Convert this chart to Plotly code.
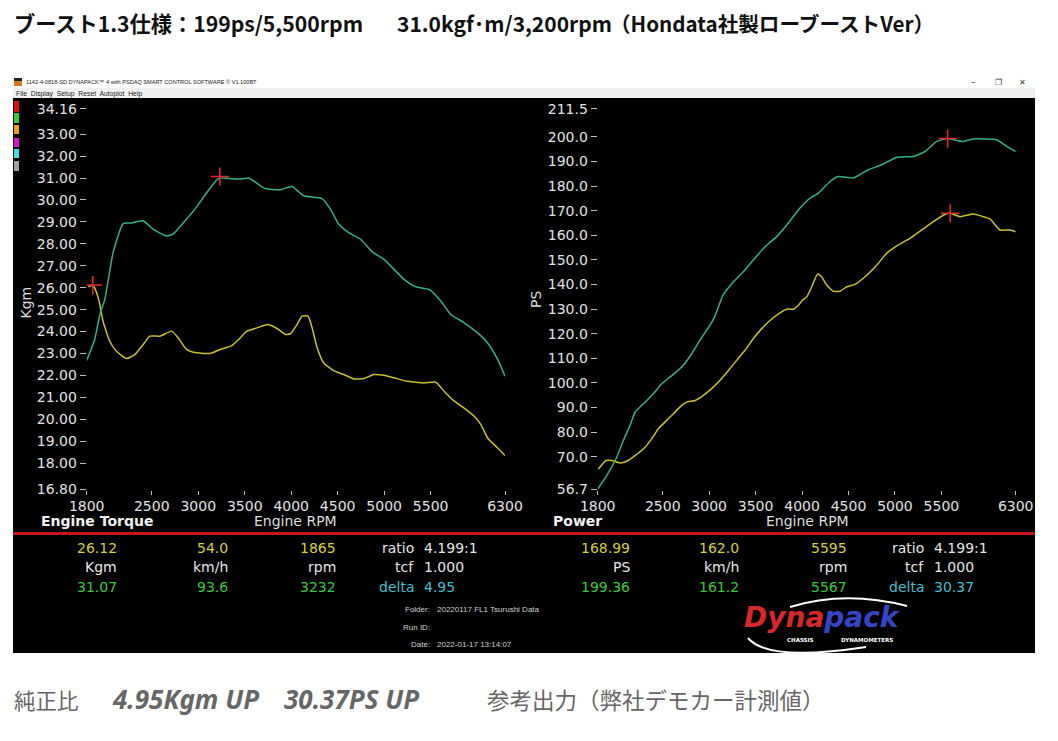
import plotly.graph_objects as go

W, H = 1058, 741

# ---------------- data ----------------
rpm_ticks = [1800, 2500, 3000, 3500, 4000, 4500, 5000, 5500, 6300]
rpm_grid = [2000, 2500, 3000, 3500, 4000, 4500, 5000, 5500, 6000, 6300]

kgm_ticks = [16.8] + list(range(18, 34)) + [34.16]
kgm_ticktext = ['16.80'] + ['%.2f' % v for v in range(18, 34)] + ['34.16']
kgm_grid = list(range(17, 34))

ps_ticks = [56.7] + list(range(70, 201, 10)) + [211.5]
ps_ticktext = ['56.7'] + ['%.1f' % v for v in range(70, 201, 10)] + ['211.5']
ps_grid = list(range(60, 201, 10))

# Torque (Kgm) - tuned (green)
tq_tuned_rpm = [1800, 1886, 1946, 1994, 2084, 2192, 2280, 2408, 2516, 2660, 2731, 2857, 2965,
                3091, 3217, 3330, 3451, 3541, 3721, 3883, 4009, 4134, 4332, 4422, 4512, 4620,
                4746, 4872, 4998, 5214, 5340, 5483, 5609, 5717, 5861, 6005, 6113, 6221, 6300]
tq_tuned = [22.68, 23.64, 24.85, 25.45, 27.6, 28.92, 28.95, 29.05, 28.66, 28.36, 28.45, 29.04, 29.58,
            30.33, 30.98, 30.98, 30.95, 31.0, 30.52, 30.46, 30.61, 30.19, 30.06, 29.58, 28.89, 28.51,
            28.21, 27.63, 27.29, 26.38, 26.04, 25.92, 25.39, 24.78, 24.40, 23.94, 23.48, 22.73, 21.96]

# Torque (Kgm) - baseline (yellow)
tq_base_rpm = [1817, 1865, 1900, 1933, 1976, 2048, 2120, 2228, 2318, 2408, 2480, 2588, 2714, 2785,
               2876, 2984, 3127, 3235, 3361, 3451, 3523, 3631, 3746, 3847, 3937, 3991, 4063, 4117,
               4181, 4225, 4279, 4350, 4458, 4566, 4674, 4782, 4890, 4998, 5106, 5250, 5430, 5555,
               5645, 5735, 5861, 5969, 6041, 6113, 6221, 6300]
tq_base = [26.04, 26.12, 25.85, 25.39, 24.47, 23.56, 23.10, 22.77, 22.95, 23.41, 23.79, 23.79, 24.02, 23.71,
           23.18, 23.03, 23.00, 23.18, 23.36, 23.71, 24.02, 24.17, 24.32, 24.14, 23.87, 23.90, 24.32, 24.70,
           24.70, 24.17, 23.26, 22.57, 22.22, 22.04, 21.84, 21.86, 22.04, 22.01, 21.89, 21.73, 21.66, 21.69,
           21.28, 20.90, 20.51, 20.14, 19.76, 19.15, 18.69, 18.35]

# Power (PS) - tuned (green)
ps_tuned_rpm = [1800, 1897, 2005, 2076, 2148, 2202, 2310, 2399, 2489, 2615, 2722, 2812, 2902, 3009,
                3060, 3153, 3261, 3368, 3476, 3601, 3727, 3835, 3978, 4086, 4176, 4301, 4391, 4552,
                4713, 4857, 5019, 5198, 5324, 5450, 5567, 5629, 5737, 5844, 5988, 6095, 6203, 6300]
ps_tuned = [56.9, 62.3, 69.8, 76.6, 82.7, 88.1, 92.2, 95.6, 99.7, 103.5, 107.2, 111.9, 117.4, 123.5,
            127.0, 136.0, 141.1, 145.2, 150.0, 155.4, 159.5, 164.2, 171.1, 175.1, 177.2, 181.9, 183.9, 183.3,
            186.7, 188.7, 191.8, 192.1, 194.1, 198.2, 199.4, 198.9, 198.2, 199.2, 199.2, 198.9, 196.2, 194.1]

# Power (PS) - baseline (yellow)
ps_base_rpm = [1807, 1890, 1951, 2040, 2112, 2202, 2310, 2381, 2453, 2543, 2615, 2704, 2758, 2848,
               2938, 3027, 3117, 3207, 3296, 3386, 3476, 3566, 3637, 3727, 3835, 3906, 3960, 4007,
               4050, 4104, 4168, 4211, 4265, 4337, 4409, 4481, 4570, 4678, 4803, 4911, 5037, 5162,
               5288, 5414, 5539, 5595, 5701, 5844, 5952, 6023, 6131, 6239, 6300]
ps_base = [65.0, 68.5, 68.5, 67.5, 68.2, 70.5, 73.9, 77.3, 81.4, 84.8, 87.5, 90.9, 92.2, 92.9,
           95.0, 97.7, 101.1, 105.1, 109.2, 113.3, 118.1, 122.1, 124.8, 127.6, 130.0, 130.0, 131.6, 133.7,
           135.0, 139.1, 144.3, 143.2, 139.8, 137.3, 137.3, 139.1, 140.1, 143.2, 147.9, 152.7, 156.1, 158.8,
           162.2, 165.6, 168.6, 169.0, 167.6, 168.7, 167.6, 166.7, 162.2, 162.2, 161.5]

# Peak markers
tq_peak_rpm = [1865, 3232]
tq_peak = [26.12, 31.07]
ps_peak_rpm = [5595, 5567]
ps_peak = [168.99, 199.36]

# Readouts
tq_row1 = ['26.12', '54.0', '1865']
tq_row2 = ['Kgm', 'km/h', 'rpm']
tq_row3 = ['31.07', '93.6', '3232']
ps_row1 = ['168.99', '162.0', '5595']
ps_row2 = ['PS', 'km/h', 'rpm']
ps_row3 = ['199.36', '161.2', '5567']
ratio_txt = '4.199:1'
tcf_txt = '1.000'
tq_delta = '4.95'
ps_delta = '30.37'

# ---------------- helpers ----------------
OFF = 8  # page body margin offset of the figure


def px(x):
    return (x - OFF) / W


def py(y):
    return 1 - (y - OFF) / H


GREEN = '#34b08c'
YELLOW = '#c8c02a'
GRID = '#565656'
UI = 'DejaVu Sans, Arial, sans-serif'
JP = 'Noto Sans CJK JP, sans-serif'

xL = [px(86.7), px(505.0)]
xR = [px(597.7), px(1015.7)]
yD = [py(489.5), py(108.7)]

fig = go.Figure()

line_style = dict(width=1.5, shape='spline', smoothing=0.5)
fig.add_trace(go.Scatter(x=tq_base_rpm, y=tq_base, xaxis='x', yaxis='y', mode='lines',
                         line=dict(color=YELLOW, **line_style), showlegend=False, hoverinfo='skip'))
fig.add_trace(go.Scatter(x=tq_tuned_rpm, y=tq_tuned, xaxis='x', yaxis='y', mode='lines',
                         line=dict(color=GREEN, **line_style), showlegend=False, hoverinfo='skip'))
fig.add_trace(go.Scatter(x=ps_base_rpm, y=ps_base, xaxis='x2', yaxis='y2', mode='lines',
                         line=dict(color=YELLOW, **line_style), showlegend=False, hoverinfo='skip'))
fig.add_trace(go.Scatter(x=ps_tuned_rpm, y=ps_tuned, xaxis='x2', yaxis='y2', mode='lines',
                         line=dict(color=GREEN, **line_style), showlegend=False, hoverinfo='skip'))
cross = dict(symbol='cross-thin', size=13, color='#e02828', line=dict(color='#e02828', width=1.6))
fig.add_trace(go.Scatter(x=tq_peak_rpm, y=tq_peak, xaxis='x', yaxis='y', mode='markers',
                         marker=cross, showlegend=False, hoverinfo='skip'))
fig.add_trace(go.Scatter(x=ps_peak_rpm, y=ps_peak, xaxis='x2', yaxis='y2', mode='markers',
                         marker=cross, showlegend=False, hoverinfo='skip'))

tickfont = dict(family=UI, size=14, color='#e2e2e2')


def label_x(domain, anchor, vals):
    return dict(domain=domain, anchor=anchor, range=[1800, 6300], tickmode='array', tickvals=vals,
                ticktext=[str(v) for v in vals], showgrid=False, zeroline=False, showline=False,
                ticks='outside', ticklen=4, tickcolor='#bdbdbd', tickfont=tickfont, fixedrange=True,
                automargin=False)


def grid_x(over, anchor, vals):
    return dict(overlaying=over, anchor=anchor, range=[1800, 6300], tickmode='array', tickvals=vals,
                showgrid=True, gridcolor=GRID, gridwidth=1, showticklabels=False, ticks='',
                zeroline=False, showline=False, fixedrange=True, automargin=False)


def label_y(domain, anchor, rng, vals, text):
    return dict(domain=domain, anchor=anchor, range=rng, tickmode='array', tickvals=vals, ticktext=text,
                showgrid=False, zeroline=False, showline=False, ticks='outside', ticklen=6,
                tickcolor='#bdbdbd', tickfont=tickfont, fixedrange=True, automargin=False)


def grid_y(over, anchor, rng, vals):
    return dict(overlaying=over, anchor=anchor, range=rng, tickmode='array', tickvals=vals,
                showgrid=True, gridcolor=GRID, gridwidth=1, showticklabels=False, ticks='',
                zeroline=False, showline=False, fixedrange=True, automargin=False)


fig.update_layout(
    width=W, height=H, margin=dict(l=0, r=0, t=0, b=0, autoexpand=False),
    paper_bgcolor='white', plot_bgcolor='black', showlegend=False,
    xaxis=label_x(xL, 'y', rpm_ticks),
    xaxis2=label_x(xR, 'y2', rpm_ticks),
    xaxis3=grid_x('x', 'y', rpm_grid),
    xaxis4=grid_x('x2', 'y2', rpm_grid),
    yaxis=label_y(yD, 'x', [16.8, 34.16], kgm_ticks, kgm_ticktext),
    yaxis2=label_y(yD, 'x2', [56.7, 211.5], ps_ticks, ps_ticktext),
    yaxis3=grid_y('y', 'x', [16.8, 34.16], kgm_grid),
    yaxis4=grid_y('y2', 'x2', [56.7, 211.5], ps_grid),
)

shapes = []


def rect(x0, y0, x1, y1, color, layer='below'):
    shapes.append(dict(type='rect', xref='paper', yref='paper', x0=px(x0), x1=px(x1), y0=py(y1), y1=py(y0),
                       fillcolor=color, line=dict(width=0), layer=layer))


rect(13, 98, 1035, 653, 'black')
rect(13, 88, 1035, 98, '#f0f0f0')
rect(14, 78, 22, 86, '#d87a1c')
rect(14, 78, 22, 81, '#202020')
# red separator
shapes.append(dict(type='line', xref='paper', yref='paper', x0=px(13), x1=px(1035), y0=py(533.5), y1=py(533.5),
                   line=dict(color='#c8141c', width=3), layer='above'))
# legend colour chips
for (y0, y1, c) in [(101, 112, '#e01010'), (113, 123, '#30d030'), (125, 134, '#f0a010'),
                    (138, 147, '#e010d0'), (149, 158, '#40e0e8'), (161, 171, '#a0a0a0')]:
    rect(14, y0, 19, y1, c, layer='above')


def path_pts(pts):
    s = 'M %f,%f' % (px(pts[0][0]), py(pts[0][1]))
    s += ' Q %f,%f %f,%f' % (px(pts[1][0]), py(pts[1][1]), px(pts[2][0]), py(pts[2][1]))
    return s


shapes.append(dict(type='path', xref='paper', yref='paper', path=path_pts([(748, 638), (768, 662), (866, 647)]),
                   line=dict(color='white', width=2), layer='above'))
shapes.append(dict(type='path', xref='paper', yref='paper', path=path_pts([(790, 607), (845, 590), (907, 606)]),
                   line=dict(color='white', width=2), layer='above'))
fig.update_layout(shapes=shapes)

anns = []


def ann(x, y, text, size, color, xanchor='left', family=UI, angle=0, yanchor='middle'):
    anns.append(dict(x=px(x), y=py(y), xref='paper', yref='paper', text=text, showarrow=False,
                     xanchor=xanchor, yanchor=yanchor, textangle=angle, borderpad=0,
                     font=dict(family=family, size=size, color=color)))


# title
ann(13, 22.5, '<b>ブースト1.3仕様：199ps/5,500rpm</b>', 21.2, '#111111', family=JP)
ann(396, 22.5, '<b>31.0kgf･m/3,200rpm</b>', 21.0, '#111111', family=JP)
ann(609, 22.5, '<b>（Hondata社製ローブーストVer）</b>', 20.6, '#111111', family=JP)

# bottom caption
ann(13, 699, '純正比', 21.5, '#666666', family=JP)
ann(111, 699, '<b><i>4.95Kgm UP</i></b>', 26, '#666666', family='Noto Sans, ' + JP)
ann(283, 699, '<b><i>30.37PS UP</i></b>', 26, '#666666', family='Noto Sans, ' + JP)
ann(486, 699, '参考出力（弊社デモカー計測値）', 22.5, '#666666', family=JP)

# window chrome
ann(25, 82, '1142-4-0818-SD DYNAPACK™ 4 with PSDAQ SMART CONTROL SOFTWARE © V1.100BT', 5.6, '#222222',
    family='Liberation Sans, Arial')
ann(15, 93.5, 'File  Display  Setup  Reset  Autoplot  Help', 6.8, '#222222', family='Liberation Sans, Arial')
ann(973, 82, '–', 9, '#333333', 'center')
ann(998, 82, '❐', 8, '#333333', 'center')
ann(1022, 82, '✕', 8, '#333333', 'center')

# axis labels
ann(25.5, 303, 'Kgm', 14, '#dddddd', 'center', angle=-90)
ann(536, 300, 'PS', 14, '#dddddd', 'center', angle=-90)
ann(40, 521, '<b>Engine Torque</b>', 14, '#f0f0f0')
ann(295, 521, 'Engine RPM', 14, '#dddddd', 'center')
ann(552, 521, '<b>Power</b>', 14, '#f0f0f0')
ann(807, 521, 'Engine RPM', 14, '#dddddd', 'center')

# readouts
C_Y = '#d6cf3c'
C_W = '#e6e6e6'
C_G = '#3cc83c'
C_C = '#45bfd0'
rows_y = [548, 567, 587]
for cols, rows in [([118, 229, 337], [tq_row1, tq_row2, tq_row3]),
                   ([631, 740, 848], [ps_row1, ps_row2, ps_row3])]:
    for ry, row, col in zip(rows_y, rows, [C_Y, C_W, C_G]):
        for cx, t in zip(cols, row):
            ann(cx, ry, t, 14, col, 'right')
for lab_x, val_x, delta in [(415, 423, tq_delta), (925, 933, ps_delta)]:
    ann(lab_x, rows_y[0], 'ratio', 14, C_W, 'right')
    ann(val_x, rows_y[0], ratio_txt, 14, C_W, 'left')
    ann(lab_x, rows_y[1], 'tcf', 14, C_W, 'right')
    ann(val_x, rows_y[1], tcf_txt, 14, C_W, 'left')
    ann(lab_x, rows_y[2], 'delta', 14, C_C, 'right')
    ann(val_x, rows_y[2], delta, 14, C_C, 'left')

# run info
info_font = 'Liberation Sans, Arial'
ann(431, 609.5, 'Folder:', 8, '#d0d0d0', 'right', family=info_font)
ann(436, 609.5, '20220117 FL1 Tsurushi Data', 8, '#d0d0d0', 'left', family=info_font)
ann(431, 627, 'Run ID:', 8, '#d0d0d0', 'right', family=info_font)
ann(431, 644.5, 'Date:', 8, '#d0d0d0', 'right', family=info_font)
ann(436, 644.5, '2022-01-17 13:14:07', 8, '#d0d0d0', 'left', family=info_font)

# Dynapack logo
ann(822, 635, "<b><i><span style='color:#d8282c'>Dyna</span><span style='color:#3446c8'>pack</span></i></b>",
    28, '#d8282c', 'center', family='DejaVu Sans, Arial', yanchor='bottom')
ann(800, 635.5, '<b>CHASSIS</b>', 5.5, '#ffffff', 'center', yanchor='top')
ann(867, 635.5, '<b>DYNAMOMETERS</b>', 5.5, '#ffffff', 'center', yanchor='top')

fig.update_layout(annotations=anns)

fig.write_html('out.html')
